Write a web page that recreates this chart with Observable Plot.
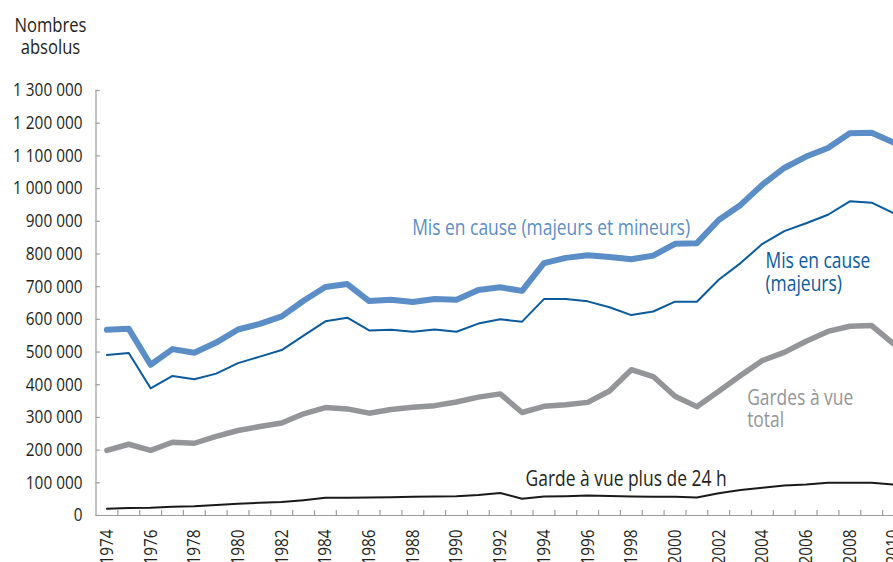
<!DOCTYPE html>
<html>
<head>
<meta charset="utf-8">
<script src="https://cdn.jsdelivr.net/npm/d3@7"></script>
<script src="https://cdn.jsdelivr.net/npm/@observablehq/plot@0.6"></script>
<style>
  html, body { margin: 0; padding: 0; background: white; overflow: hidden; }
  #chart svg { overflow: hidden; display: block; }
</style>
</head>
<body>
<div id="chart"></div>
<script>
// ---- Data (values in thousands) ----
const years = d3.range(1974, 2011);
const misEnCauseTotal = [568, 571, 461, 509, 498, 529, 569, 586, 609, 657, 699, 708, 656, 660, 653, 662, 660, 690, 698, 687, 772, 788, 796, 791, 784, 795, 831, 833, 904, 950, 1012, 1063, 1098, 1124, 1169, 1171, 1141];
const misEnCauseMajeurs = [491, 497, 389, 427, 417, 434, 466, 486, 506, 550, 594, 605, 566, 568, 562, 569, 562, 587, 600, 593, 662, 662, 655, 637, 613, 624, 654, 654, 721, 772, 831, 870, 894, 920, 961, 957, 925];
const gardesTotal = [199, 218, 199, 224, 221, 242, 260, 272, 283, 311, 330, 326, 313, 324, 331, 336, 347, 362, 372, 315, 334, 339, 346, 381, 446, 425, 365, 333, 380, 428, 474, 499, 533, 563, 579, 581, 525];
const gardesPlus24h = [20.5, 23, 24, 27, 28, 32, 36, 39, 41, 47, 54, 54, 55, 56, 57, 58, 59, 63, 69, 51, 58, 59, 61, 60, 58, 57, 57, 55, 68, 78, 85, 92, 95, 100, 100, 100, 95];
const yTicks = d3.range(0, 1300001, 100000);
const xLabelYears = years.filter(y => y % 2 === 0);
const title = "Nombres\nabsolus";
const seriesLabels = [
  {text: "Mis en cause (majeurs et mineurs)", x: 1987.97, y: 858000, color: "#5b8ec6"},
  {text: "Mis en cause\n(majeurs)", x: 2004.14, y: 688000, color: "#0a5a9c"},
  {text: "Gardes à vue\ntotal", x: 2003.3, y: 270000, color: "#939598"},
  {text: "Garde à vue plus de 24 h", x: 1993.16, y: 89000, color: "#231f20"}
];

const rows = years.map((yr, i) => ({
  year: yr,
  total: misEnCauseTotal[i] * 1000,
  majeurs: misEnCauseMajeurs[i] * 1000,
  gav: gardesTotal[i] * 1000,
  gav24: gardesPlus24h[i] * 1000
}));

const FONT = '"Open Sans", "Noto Sans", sans-serif';
const fmt = d => d3.format(",")(d).replace(/,/g, " ");
const axisColor = "#9d9d9d";
const x0 = years[0] - 0.5, x1 = years[years.length - 1] + 0.5;

const chart = Plot.plot({
  width: 893,
  height: 562,
  marginLeft: 96,
  marginRight: 0,
  marginTop: 90,
  marginBottom: 47,
  style: {fontFamily: FONT, fontSize: "18.5px", color: "#231f20", background: "white", overflow: "hidden"},
  x: {type: "linear", domain: [x0, x1], range: [95.5, 95.5 + 37 * 21.85], axis: null},
  y: {domain: [0, 1300000], range: [515, 90]},
  marks: [
    Plot.ruleX([x0], {y1: 0, y2: 1300000, stroke: axisColor, strokeWidth: 1.2}),
    Plot.ruleY([0], {x1: x0, x2: x1, stroke: axisColor, strokeWidth: 1.2}),
    Plot.ruleY(yTicks, {y: d => d, x1: x0, x2: x0 + 0.2, stroke: axisColor, strokeWidth: 1.2}),
    Plot.ruleX(years.map(y => y + 0.5), {x: d => d, y1: 0, y2: 15000, stroke: axisColor, strokeWidth: 1.2}),
    Plot.axisY(yTicks, {anchor: "left", tickSize: 0, tickPadding: 14, tickFormat: fmt, fontSize: 18.5, fill: "#231f20", label: null}),
    Plot.text(xLabelYears, {x: d => d, y: 0, text: d => String(d), rotate: -90, textAnchor: "end", lineAnchor: "middle", dy: 14, fontSize: 18.5, fill: "#231f20"}),
    Plot.line(rows, {x: "year", y: "gav", stroke: "#939598", strokeWidth: 5.5}),
    Plot.line(rows, {x: "year", y: "gav24", stroke: "#1a1a1a", strokeWidth: 2}),
    Plot.line(rows, {x: "year", y: "total", stroke: "#5b8ec6", strokeWidth: 6}),
    Plot.line(rows, {x: "year", y: "majeurs", stroke: "#0a5a9c", strokeWidth: 2}),
    Plot.text(seriesLabels, {x: "x", y: "y", text: "text", fill: "color", textAnchor: "start", lineAnchor: "bottom", fontSize: 21, lineHeight: 1.08}),
    Plot.text([title], {frameAnchor: "top-left", text: d => d, dx: -46, dy: -36.7, textAnchor: "middle", lineAnchor: "bottom", fontSize: 20, lineHeight: 1.08, fill: "#231f20"})
  ]
});
document.getElementById("chart").appendChild(chart);

// Condense glyphs horizontally to mimic the narrow typeface of the original
const k = 0.83;
chart.querySelectorAll("text").forEach(t => {
  const spans = t.querySelectorAll("tspan");
  const targets = spans.length ? Array.from(spans) : [t];
  targets.forEach(el => {
    const L = el.getComputedTextLength();
    if (L > 0) {
      el.setAttribute("textLength", (L * k).toFixed(2));
      el.setAttribute("lengthAdjust", "spacingAndGlyphs");
    }
  });
});
</script>
</body>
</html>
